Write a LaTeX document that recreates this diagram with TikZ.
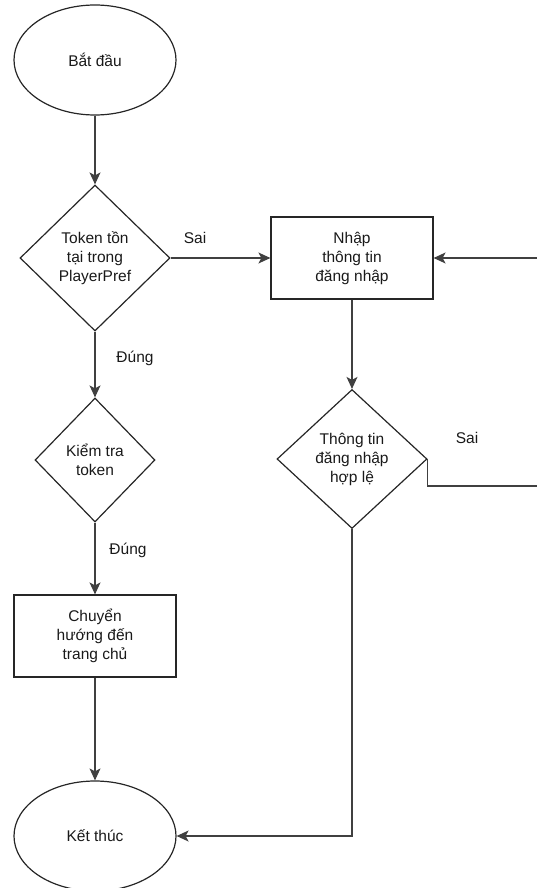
\documentclass[tikz,border=0pt]{standalone}
\usepackage{fontspec}
\setmainfont{Liberation Sans}
\usetikzlibrary{shapes.geometric,arrows.meta}
\begin{document}
\begin{tikzpicture}[x=1pt,y=-1pt,
  every node/.style={font=\fontsize{15.5}{19}\selectfont, align=center, text=black!90},
  shapeline/.style={draw=black!85, line width=1.2pt},
  terminal/.style={shapeline, ellipse, minimum width=162pt, minimum height=110pt, inner sep=0pt},
  process/.style={shapeline, rectangle, minimum width=162pt, minimum height=82pt, inner sep=0pt},
  decision/.style={shapeline, diamond, inner sep=0pt},
  arr/.style={draw=black!75, line width=1.2pt, -{Stealth[length=12pt,width=11pt,inset=3pt]}},
  lbl/.style={font=\fontsize{15.5}{19}\selectfont}
]
\useasboundingbox (0,0) rectangle (536,888);

% Main column
\node[terminal] (start) at (95,60) {Bắt đầu};
\node[decision, minimum width=150pt, minimum height=146pt,
      label={[align=center]center:Token tồn\\tại trong\\PlayerPref}] (d1) at (95,258) {};
\node[decision, minimum width=120pt, minimum height=124pt,
      label={[align=center]center:Kiểm tra\\token}] (d3) at (95,460) {};
\node[process] (home) at (95,636) {Chuyển\\hướng đến\\trang chủ};
\node[terminal] (end) at (95,836) {Kết thúc};

% Login column
\node[process] (input) at (352,258) {Nhập\\thông tin\\đăng nhập};
\node[decision, minimum width=150pt, minimum height=139pt,
      label={[align=center]center:Thông tin\\đăng nhập\\hợp lệ}] (d2) at (352,459) {};

% Branch labels
\node[lbl] (sai1) at (195,238) {Sai};
\node[lbl] (dung1) at (135,358) {Đúng};
\node[lbl] (dung2) at (128,550) {Đúng};
\node[lbl] (sai2) at (467,438) {Sai};

% Loop-back corners, past the right edge of the page
\coordinate (rdown) at (548,486);
\coordinate (rup) at (548,258);

% Connectors
\draw[arr] (start) -- (d1);
\draw[arr] (d1) -- (input);
\draw[arr] (d1) -- (d3);
\draw[arr] (d3) -- (home);
\draw[arr] (home) -- (end);
\draw[arr] (input) -- (d2);
\draw[arr] (d2.east) -- (d2.east |- rdown) -- (rdown) -- (rup) -- (input.east);
\draw[arr] (d2.south) |- (end.east);
\end{tikzpicture}
\end{document}
